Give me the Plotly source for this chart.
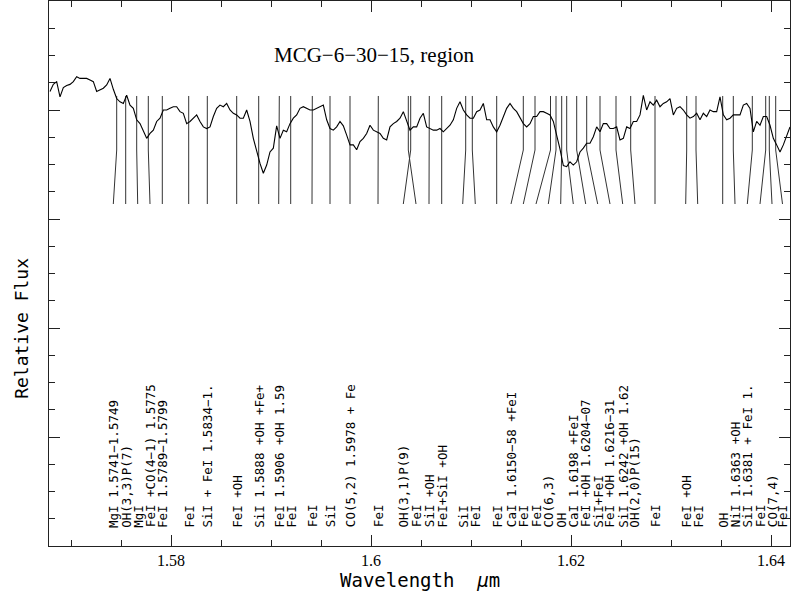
import numpy as np
import plotly.graph_objects as go

# ---------------- data ----------------
# spectrum sampled on a uniform wavelength grid (micron)
wl_start = 1.5679
wl_step = 1.0 / 3000.0
flux = [
    0.834, 0.847, 0.852, 0.824, 0.841, 0.845, 0.847, 0.852, 0.861, 0.858,
    0.858, 0.858, 0.855, 0.852, 0.834, 0.837, 0.840, 0.846, 0.858, 0.838,
    0.821, 0.815, 0.812, 0.827, 0.809, 0.803, 0.782, 0.775, 0.760, 0.748,
    0.757, 0.763, 0.779, 0.785, 0.800, 0.800, 0.803, 0.806, 0.806, 0.797,
    0.794, 0.775, 0.779, 0.785, 0.791, 0.779, 0.769, 0.766, 0.769, 0.788,
    0.803, 0.809, 0.806, 0.812, 0.800, 0.794, 0.791, 0.785, 0.785, 0.800,
    0.779, 0.748, 0.723, 0.702, 0.684, 0.699, 0.723, 0.730, 0.771, 0.748,
    0.763, 0.760, 0.775,
    0.785, 0.791, 0.803, 0.806, 0.803, 0.800, 0.800, 0.803, 0.806, 0.809,
    0.782, 0.766, 0.763, 0.769, 0.779, 0.771, 0.754, 0.736, 0.736, 0.727,
    0.742, 0.748, 0.757, 0.772, 0.763, 0.760, 0.757, 0.748, 0.745, 0.769,
    0.775, 0.779, 0.785, 0.797, 0.779, 0.763, 0.769, 0.769, 0.785, 0.794,
    0.769, 0.766, 0.763, 0.763, 0.766, 0.760, 0.766, 0.772, 0.782, 0.803,
    0.815, 0.800, 0.791, 0.785, 0.785, 0.797, 0.800, 0.812, 0.782, 0.782,
    0.769, 0.760, 0.772, 0.788, 0.803, 0.812, 0.803, 0.797, 0.785, 0.775,
    0.769, 0.775, 0.788, 0.788, 0.797,
    0.797, 0.794, 0.791, 0.779, 0.754, 0.728, 0.698, 0.696, 0.705, 0.699,
    0.705, 0.723, 0.730, 0.739, 0.739, 0.751, 0.769, 0.760, 0.775, 0.775,
    0.766, 0.766, 0.769, 0.745, 0.748, 0.769, 0.766, 0.779, 0.779, 0.791,
    0.827, 0.800, 0.815, 0.809, 0.818, 0.806, 0.812, 0.815, 0.821, 0.791,
    0.803, 0.806, 0.800, 0.791, 0.785, 0.788, 0.794, 0.782, 0.794, 0.788,
    0.800, 0.797, 0.797, 0.824, 0.791, 0.782, 0.785, 0.791, 0.791, 0.791,
    0.809, 0.812, 0.803, 0.760, 0.779, 0.772, 0.788, 0.788, 0.772, 0.748,
    0.736, 0.723, 0.736, 0.754, 0.769,
]

# identified absorption lines: rest wavelength and position of its label
line_wl = [
    1.57457, 1.57547, 1.57657, 1.57773, 1.57913, 1.58177, 1.58363, 1.58657,
    1.58877, 1.59083, 1.59197, 1.59413, 1.59590, 1.59790, 1.60073, 1.60397,
    1.60373, 1.60583, 1.60707, 1.60947, 1.61013, 1.61257, 1.61523, 1.61640,
    1.61795, 1.61850, 1.61907, 1.61957, 1.62057, 1.62157, 1.62290, 1.62450,
    1.62597, 1.62840, 1.63157, 1.63250, 1.63517, 1.63623, 1.63813, 1.63947,
    1.63983, 1.64047,
]
label_wl = [
    1.57423, 1.57547, 1.57667, 1.57790, 1.57913, 1.58177, 1.58363, 1.58657,
    1.58877, 1.59077, 1.59197, 1.59410, 1.59590, 1.59790, 1.60070, 1.60323,
    1.60450, 1.60580, 1.60707, 1.60917, 1.61043, 1.61257, 1.61400, 1.61523,
    1.61650, 1.61773, 1.61897, 1.62023, 1.62147, 1.62267, 1.62390, 1.62517,
    1.62640, 1.62840, 1.63147, 1.63267, 1.63517, 1.63640, 1.63763, 1.63890,
    1.64010, 1.64115,
]
label_text = [
    "MgI 1.5741\u22121.5749", "OH(3,3)P(7)", "MgI", "FeI +CO(4\u22121) 1.5775",
    "FeI 1.5789\u22121.5799", "FeI", "SiI + FeI 1.5834\u22121.", "FeI +OH",
    "SiI 1.5888 +OH +Fe+", "FeI 1.5906 +OH 1.59", "FeI", "FeI", "SiI",
    "CO(5,2) 1.5978 + Fe", "FeI", "OH(3,1)P(9)", "FeI", "SiI +OH",
    "FeI+SiI +OH", "SiI", "FeI", "FeI", "CaI 1.6150\u221258 +FeI", "FeI",
    "FeI", "CO(6,3)", "OH", "CaI 1.6198 +FeI", "FeI +OH 1.6204\u221207",
    "SiI+FeI", "FeI +OH 1.6216\u221231", "SiI 1.6242 +OH 1.62",
    "OH(2,0)P(15)", "FeI", "FeI +OH", "FeI", "OH", "NiI 1.6363 +OH",
    "SiI 1.6381 + FeI 1.", "FeI", "CO(7,4)", "FeI",
]

title_text = "MCG\u22126\u221230\u221215, region"
x_title = "Wavelength  <i>\u03bc</i>m"
y_title = "Relative Flux"
x_tickvals = [1.58, 1.60, 1.62, 1.64]
x_ticktext = ["1.58", "1.6", "1.62", "1.64"]

# marker geometry (relative-flux levels)
marker_top, marker_kink, marker_bottom = 0.8257, 0.7266, 0.6275
label_base = 0.030
x_range = [1.5678, 1.6419]
y_range = [0.0, 1.0]

# ---------------- figure ----------------
wl = wl_start + wl_step * np.arange(len(flux))

mx, my = [], []
for lw, lb in zip(line_wl, label_wl):
    mx += [lw, lw, lb, None]
    my += [marker_top, marker_kink, marker_bottom, None]

fig = go.Figure()
fig.add_trace(go.Scatter(x=mx, y=my, mode="lines",
                         line=dict(color="#333333", width=1), hoverinfo="skip",
                         showlegend=False))
fig.add_trace(go.Scatter(x=wl, y=flux, mode="lines",
                         line=dict(color="black", width=1.1),
                         showlegend=False))

annotations = []
for lb, txt in zip(label_wl, label_text):
    annotations.append(dict(
        x=lb, y=label_base, xref="x", yref="y", text=txt, textangle=-90,
        showarrow=False, xanchor="center", yanchor="bottom",
        font=dict(family="DejaVu Sans Mono", size=12.5, color="black")))

annotations.append(dict(
    x=1.5901, y=0.901, xref="x", yref="y", text=title_text, showarrow=False,
    xanchor="left", yanchor="middle",
    font=dict(family="Liberation Serif", size=21, color="black")))
annotations.append(dict(
    x=0.5, y=-0.0624, xref="paper", yref="paper", text=x_title,
    showarrow=False, xanchor="center", yanchor="middle",
    font=dict(family="DejaVu Sans Mono", size=19, color="black")))
annotations.append(dict(
    x=-0.038, y=0.40, xref="paper", yref="paper", text=y_title, textangle=-90,
    showarrow=False, xanchor="center", yanchor="middle",
    font=dict(family="DejaVu Sans Mono", size=18, color="black")))

axis_common = dict(showgrid=False, zeroline=False, showline=True,
                   linecolor="#222222", linewidth=1.2, mirror="ticks",
                   ticks="inside", ticklen=11, tickwidth=1.1,
                   tickcolor="#222222")

fig.update_layout(
    width=791, height=600,
    margin=dict(l=49, r=1, t=1, b=54),
    paper_bgcolor="white", plot_bgcolor="white",
    annotations=annotations,
    xaxis=dict(range=x_range, tickvals=x_tickvals, ticktext=x_ticktext,
               tickfont=dict(family="Liberation Serif", size=16, color="black"),
               minor=dict(dtick=0.005, tick0=1.58, ticks="inside", ticklen=6,
                          tickcolor="#222222", tickwidth=1.1),
               **axis_common),
    yaxis=dict(range=y_range, tickvals=[0, 0.2, 0.4, 0.6, 0.8, 1.0],
               showticklabels=False,
               minor=dict(dtick=0.05, tick0=0, ticks="inside", ticklen=6,
                          tickcolor="#222222", tickwidth=1.1),
               **axis_common),
)

fig.write_html("out.html",
               config={"displayModeBar": False},
               post_script="document.body.style.margin='0';"
                           "document.body.style.overflow='hidden';")
